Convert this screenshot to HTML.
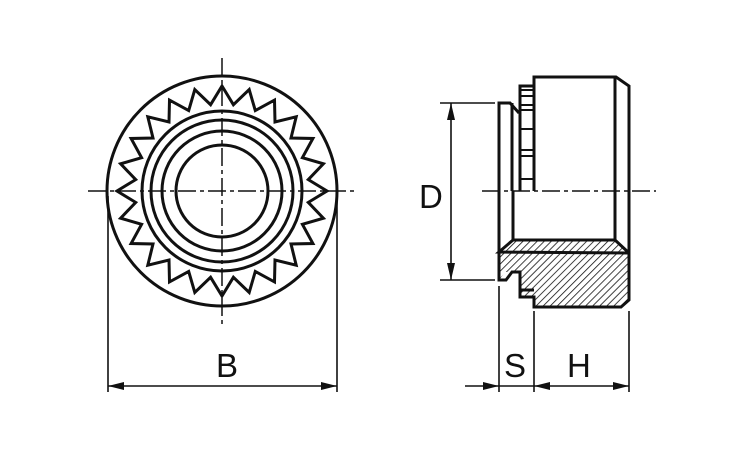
<!DOCTYPE html>
<html><head><meta charset="utf-8"><style>
html,body{margin:0;padding:0;background:#fff;width:750px;height:450px;overflow:hidden}
text{font-family:"Liberation Sans",sans-serif;font-size:33px;fill:#111}
</style></head><body>
<svg width="750" height="450" viewBox="0 0 750 450" xmlns="http://www.w3.org/2000/svg">
<defs>
<pattern id="h" width="5" height="5" patternUnits="userSpaceOnUse" patternTransform="rotate(45)">
<line x1="0" y1="0" x2="0" y2="5" stroke="#111" stroke-width="1.6"/>
</pattern>
</defs>
<path d="M513,240 L615,240 L629,253 L629,300 L621,307 L534,307 L534,297 L520,297 L520,272 L505,272 L499,280 L499,252 Z" fill="url(#h)" stroke="none"/>
<g fill="none" stroke="#111" stroke-width="3">
<circle cx="222" cy="191" r="115"/>
<polygon points="222,86 233.4,104.7 249.2,89.6 255.3,110.6 274.5,100.1 275,122 296.2,116.8 291,138 312.9,138.5 302.4,157.7 323.4,163.8 308.3,179.6 327,191 308.3,202.4 323.4,218.2 302.4,224.3 312.9,243.5 291,244 296.2,265.2 275,260 274.5,281.9 255.3,271.4 249.2,292.4 233.4,277.3 222,296 210.6,277.3 194.8,292.4 188.7,271.4 169.5,281.9 169,260 147.8,265.2 153,244 131.1,243.5 141.6,224.3 120.6,218.2 135.7,202.4 117,191 135.7,179.6 120.6,163.8 141.6,157.7 131.1,138.5 153,138 147.8,116.8 169,122 169.5,100.1 188.7,110.6 194.8,89.6 210.6,104.7" stroke-linejoin="miter"/>
<circle cx="222" cy="191" r="80"/>
<circle cx="222" cy="191" r="71"/>
<circle cx="222" cy="191" r="60"/>
<circle cx="222" cy="191" r="46"/>
</g>
<g stroke="#111" stroke-width="1.5" stroke-dasharray="18,4,4,4">
<line x1="222" y1="58" x2="222" y2="326"/>
<line x1="88" y1="191" x2="358" y2="191"/>
<line x1="482" y1="191" x2="656" y2="191"/>
</g>
<g fill="none" stroke="#111" stroke-width="3" stroke-linejoin="miter">
<path d="M534,191 L534,77 L616,77 L629,86 L629,300 L621,307 L534,307 L534,297 L520,297 L520,290 L534,290"/>
<path d="M520,290 L520,272 L512,272 L506,280 L499,280 L499,103 L510,103 L519,113"/>
<line x1="512" y1="103" x2="512" y2="191"/>
<line x1="615" y1="77" x2="615" y2="240"/>
<path d="M520,191 L520,86 L534,86"/>
<line x1="513" y1="191" x2="513" y2="240"/>
<path d="M513,240 L615,240 L629,253"/>
<path d="M513,240 L499,252 L629,253"/>
</g>
<g stroke="#111" stroke-width="2">
<line x1="520" y1="90" x2="534" y2="90"/>
<line x1="520" y1="96" x2="534" y2="96"/>
<line x1="520" y1="105" x2="534" y2="105"/>
<line x1="520" y1="110" x2="534" y2="110"/>
<line x1="520" y1="129" x2="534" y2="129"/>
<line x1="520" y1="150" x2="534" y2="150"/>
<line x1="520" y1="156" x2="534" y2="156"/>
<line x1="520" y1="179" x2="534" y2="179"/>
</g>
<g stroke="#111" stroke-width="1.6" fill="none">
<line x1="108" y1="196" x2="108" y2="392"/>
<line x1="337" y1="196" x2="337" y2="392"/>
<line x1="108" y1="386" x2="337" y2="386"/>
<line x1="440" y1="103" x2="495" y2="103"/>
<line x1="440" y1="280" x2="495" y2="280"/>
<line x1="451" y1="103" x2="451" y2="280"/>
<line x1="499" y1="286" x2="499" y2="392"/>
<line x1="534" y1="311" x2="534" y2="392"/>
<line x1="629" y1="311" x2="629" y2="392"/>
<line x1="465" y1="386" x2="629" y2="386"/>
</g>
<g fill="#111">
<polygon points="108,386 124,382 124,390"/>
<polygon points="337,386 321,382 321,390"/>
<polygon points="451,103 447,120 455,120"/>
<polygon points="451,280 447,263 455,263"/>
<polygon points="499,386 483,382 483,390"/>
<polygon points="534,386 550,382 550,390"/>
<polygon points="629,386 613,382 613,390"/>
</g>
<text x="216" y="377">B</text>
<text x="419" y="208">D</text>
<text x="504" y="377">S</text>
<text x="567" y="377">H</text>
</svg>
</body></html>
